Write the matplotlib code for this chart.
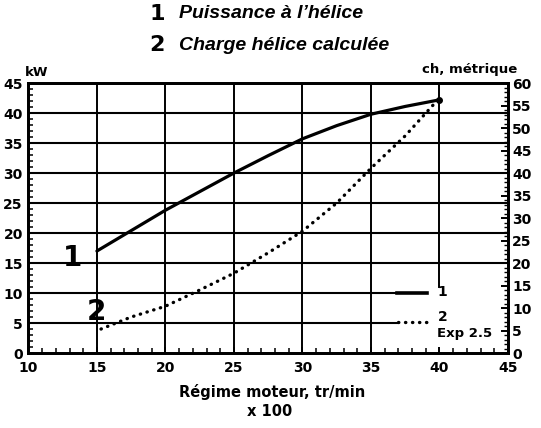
import matplotlib
matplotlib.use("Agg")
import matplotlib.pyplot as plt
from matplotlib.ticker import MultipleLocator

# Engine speed (x 100 tr/min) and power (kW)
rpm_power = [15, 17.5, 20, 22.5, 25, 27.5, 30, 32.5, 35, 37.5, 40]
kw_power = [17.0, 20.4, 23.8, 26.9, 30.0, 32.9, 35.7, 37.9, 39.8, 41.1, 42.2]

rpm_load = [15.3, 17.5, 20, 22.5, 25, 27.5, 30, 32.5, 35, 37.5, 39.6]
kw_load = [4.0, 6.0, 7.8, 10.5, 13.3, 16.7, 20.3, 25.0, 30.8, 36.2, 41.5]

x_ticks = [10, 15, 20, 25, 30, 35, 40, 45]
kw_ticks = [0, 5, 10, 15, 20, 25, 30, 35, 40, 45]
ch_ticks = [0, 5, 10, 15, 20, 25, 30, 35, 40, 45, 50, 55, 60]

FONT = "DejaVu Sans"
plt.rcParams["font.family"] = [FONT]

fig = plt.figure(figsize=(5.41, 4.28), dpi=100)
ax = fig.add_axes([0.0525, 0.1752, 0.8865, 0.6308])
ax.set_xlim(10, 45)
ax.set_ylim(0, 45)

# grid lines (the two lowest stop before the in-plot key)
for y in kw_ticks[1:-1]:
    xmax = 36.9 if y in (5, 10) else 45
    ax.plot([10, xmax], [y, y], color="black", lw=1.5, zorder=1)
for x in x_ticks[1:-1]:
    ymin = 11 if x == 40 else 0
    ax.plot([x, x], [ymin, 45], color="black", lw=1.4, zorder=1)

# curves
ax.plot(rpm_power, kw_power, color="black", lw=2.3, solid_capstyle="round", zorder=3)
ax.plot(rpm_power[-1:], kw_power[-1:], "o", color="black", ms=4, zorder=3)
ax.plot(rpm_load, kw_load, color="black", lw=2.4, linestyle=(0, (0.1, 2.0)),
        dash_capstyle="round", zorder=3)

# in-plot key
ax.plot([36.9, 39.1], [10, 10], color="black", lw=2.6, zorder=3)
ax.plot([37.0, 39.1], [5.2, 5.2], color="black", lw=2.4, linestyle=(0, (0.1, 2.0)),
        dash_capstyle="round", zorder=3)
ax.text(39.85, 10.2, "1", fontsize=10, fontweight="bold", va="center", ha="left")
ax.text(39.85, 6.0, "2", fontsize=10, fontweight="bold", va="center", ha="left")
ax.text(39.8, 3.2, "Exp 2.5", fontsize=9.5, fontweight="bold", va="center", ha="left")

# curve numbers
ax.text(13.25, 15.8, "1", fontsize=20, fontweight="heavy", va="center", ha="center")
ax.text(15.0, 6.8, "2", fontsize=20, fontweight="heavy", va="center", ha="center")

# axes styling
for s in ax.spines.values():
    s.set_linewidth(2.0)
ax.set_xticks(x_ticks)
ax.set_yticks(kw_ticks)
ax.xaxis.set_minor_locator(MultipleLocator(1))
ax.yaxis.set_minor_locator(MultipleLocator(1))
ax.tick_params(which="major", direction="in", length=4, width=1.4, pad=4,
               labelsize=10)
ax.tick_params(axis="x", which="major", pad=6)
ax.tick_params(which="minor", direction="in", length=3.5, width=1.1)
for lab in ax.get_xticklabels() + ax.get_yticklabels():
    lab.set_fontweight("bold")

ax2 = ax.twinx()
ax2.set_ylim(0, 60)
ax2.set_yticks(ch_ticks)
ax2.yaxis.set_minor_locator(MultipleLocator(1))
ax2.tick_params(which="major", direction="in", length=5, width=1.4, pad=3,
                labelsize=10)
ax2.tick_params(which="minor", direction="in", length=3, width=1.0)
for lab in ax2.get_yticklabels():
    lab.set_fontweight("bold")
for s in ax2.spines.values():
    s.set_linewidth(2.0)

# axis titles
fig.text(37 / 541, 1 - 72 / 428, "kW", fontsize=9.5, fontweight="bold",
         ha="center", va="center")
fig.text(470 / 541, 1 - 70 / 428, "ch, métrique", fontsize=9.5, fontweight="bold",
         ha="center", va="center")
fig.text(272 / 541, 1 - 392 / 428, "Régime moteur, tr/min", fontsize=10.5,
         fontweight="bold", ha="center", va="center")
fig.text(270 / 541, 1 - 412 / 428, "x 100", fontsize=10.5, fontweight="bold",
         ha="center", va="center")

# heading
head_font = ["Liberation Sans", "DejaVu Sans"]
fig.text(157 / 541, 1 - 14 / 428, "1", fontsize=16, fontweight="heavy",
         family=["DejaVu Sans"], ha="center", va="center")
fig.text(179 / 541, 1 - 14 / 428, "Puissance à l\u2019hélice", fontsize=14,
         style="italic", fontweight="bold", family=head_font, ha="left", va="center")
fig.text(157 / 541, 1 - 45 / 428, "2", fontsize=16, fontweight="heavy",
         family=["DejaVu Sans"], ha="center", va="center")
fig.text(179 / 541, 1 - 45 / 428, "Charge hélice calculée", fontsize=14,
         style="italic", fontweight="bold", family=head_font, ha="left", va="center")

fig.savefig("out.png", dpi=100)
